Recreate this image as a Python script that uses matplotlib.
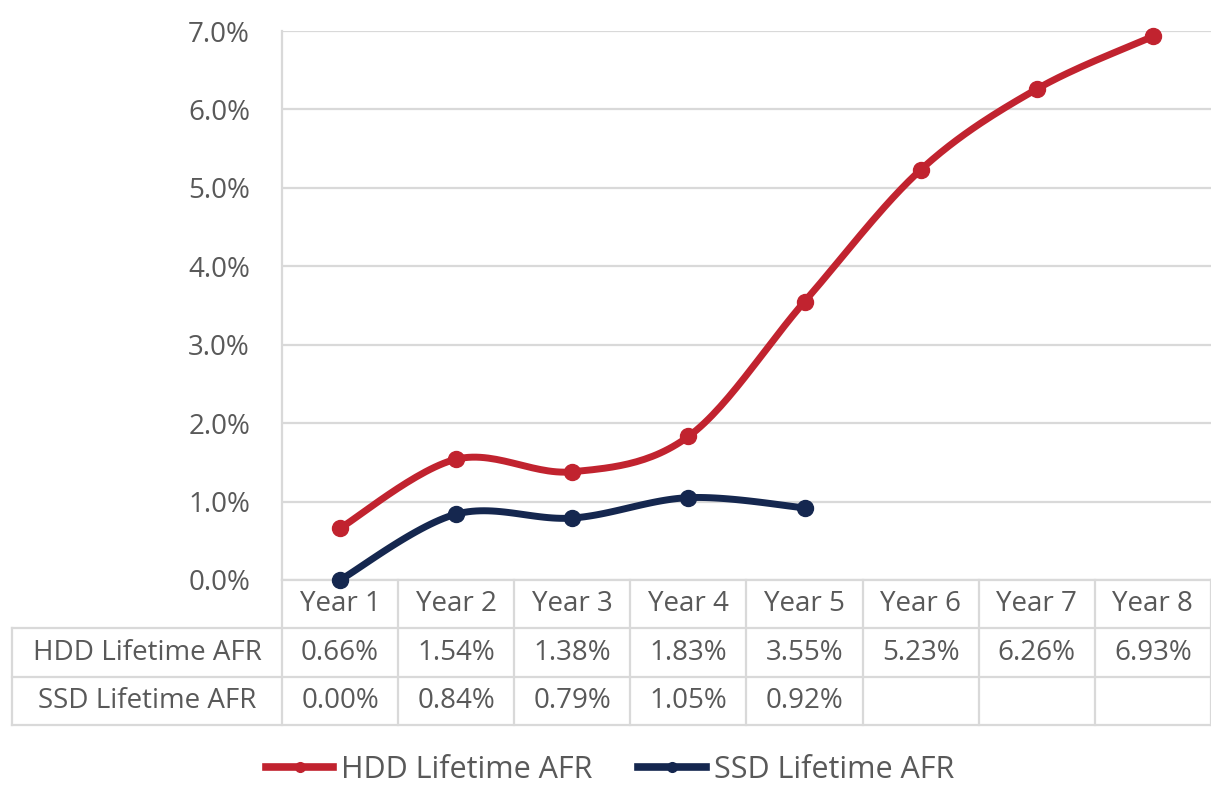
import matplotlib.pyplot as plt
import numpy as np
from matplotlib.lines import Line2D

years = ['Year 1', 'Year 2', 'Year 3', 'Year 4', 'Year 5', 'Year 6', 'Year 7', 'Year 8']
hdd_afr = [0.66, 1.54, 1.38, 1.83, 3.55, 5.23, 6.26, 6.93]
ssd_afr = [0.00, 0.84, 0.79, 1.05, 0.92]
series_names = ['HDD Lifetime AFR', 'SSD Lifetime AFR']

RED = '#c1232f'
NAVY = '#15274f'
TXT = '#595959'
GRID = '#d9d9d9'
FONT = 'Open Sans'
FS = 20

W, H = 1211, 785


def fig_box(x0, y0, x1, y1):
    return [x0 / W, 1 - y1 / H, (x1 - x0) / W, (y1 - y0) / H]


def smooth(xs, ys, n=30):
    # Excel-style smoothed line (Catmull-Rom through the points)
    p = np.column_stack([xs, ys]).astype(float)
    p = np.vstack([p[0], p, p[-1]])
    out = []
    for i in range(1, len(p) - 2):
        p0, p1, p2, p3 = p[i - 1], p[i], p[i + 1], p[i + 2]
        c1 = p1 + (p2 - p0) / 6
        c2 = p2 - (p3 - p1) / 6
        t = np.linspace(0, 1, n)[:, None]
        seg = ((1 - t) ** 3) * p1 + 3 * ((1 - t) ** 2) * t * c1 + 3 * (1 - t) * t ** 2 * c2 + t ** 3 * p2
        out.append(seg if i == 1 else seg[1:])
    s = np.vstack(out)
    return s[:, 0], s[:, 1]


fig = plt.figure(figsize=(W / 100, H / 100), dpi=100)

# main plot
ax = fig.add_axes(fig_box(282, 31, 1211, 580))
ax.set_xlim(-0.5, len(years) - 0.5)
ax.set_ylim(0, 7)
ax.set_yticks(range(8))
ax.set_yticklabels([f'{v:.1f}%' for v in range(8)], fontsize=FS, color=TXT, family=FONT)
ax.tick_params(axis='y', length=0, pad=23)
ax.set_xticks([])
ax.yaxis.grid(True, color=GRID, lw=1.6)
ax.set_axisbelow(True)
for s in ['top', 'right']:
    ax.spines[s].set_visible(False)
ax.spines['left'].set_color(GRID)
ax.spines['left'].set_linewidth(1.6)
ax.spines['bottom'].set_color(GRID)
ax.spines['bottom'].set_linewidth(1.6)

for vals, col in [(hdd_afr, RED), (ssd_afr, NAVY)]:
    x = np.arange(len(vals))
    sx, sy = smooth(x, vals)
    ax.plot(sx, sy, color=col, lw=5, solid_capstyle='round', clip_on=False, zorder=3)
    ax.plot(x, vals, 'o', color=col, ms=11.5, clip_on=False, zorder=4)

# data table
tb = fig.add_axes(fig_box(12, 580, 1211, 725))
unit = (1211 - 282) / len(years)
xl = -0.5 - (282 - 12) / unit
xr = len(years) - 0.5
tb.set_xlim(xl, xr)
tb.set_ylim(3, 0)
tb.axis('off')

lc = dict(color=GRID, lw=1.6, clip_on=False)
for i in range(len(years) + 1):
    tb.plot([i - 0.5, i - 0.5], [0, 3], **lc)
tb.plot([xl, xl], [1, 3], **lc)
for yy in [1, 2, 3]:
    tb.plot([xl, xr], [yy, yy], **lc)

for i, y in enumerate(years):
    tb.text(i, 0.5, y, ha='center', va='center', fontsize=FS, color=TXT, family=FONT)
for r, vals in enumerate([hdd_afr, ssd_afr]):
    tb.text((xl - 0.5) / 2, r + 1.5, series_names[r], ha='center', va='center',
            fontsize=FS, color=TXT, family=FONT)
    for i, v in enumerate(vals):
        tb.text(i, r + 1.5, f'{v:.2f}%', ha='center', va='center', fontsize=FS, color=TXT, family=FONT)

# legend
handles = [Line2D([], [], color=RED, lw=5.5, marker='o', ms=7),
           Line2D([], [], color=NAVY, lw=5.5, marker='o', ms=7)]
leg = fig.legend(handles, series_names, loc='center', bbox_to_anchor=(610 / W, 1 - 770 / H),
                 ncol=2, frameon=False, handlelength=2.2, columnspacing=1.5, handletextpad=0.26,
                 prop={'family': FONT, 'size': 22})
for t in leg.get_texts():
    t.set_color(TXT)

fig.savefig('out.png', dpi=100)
